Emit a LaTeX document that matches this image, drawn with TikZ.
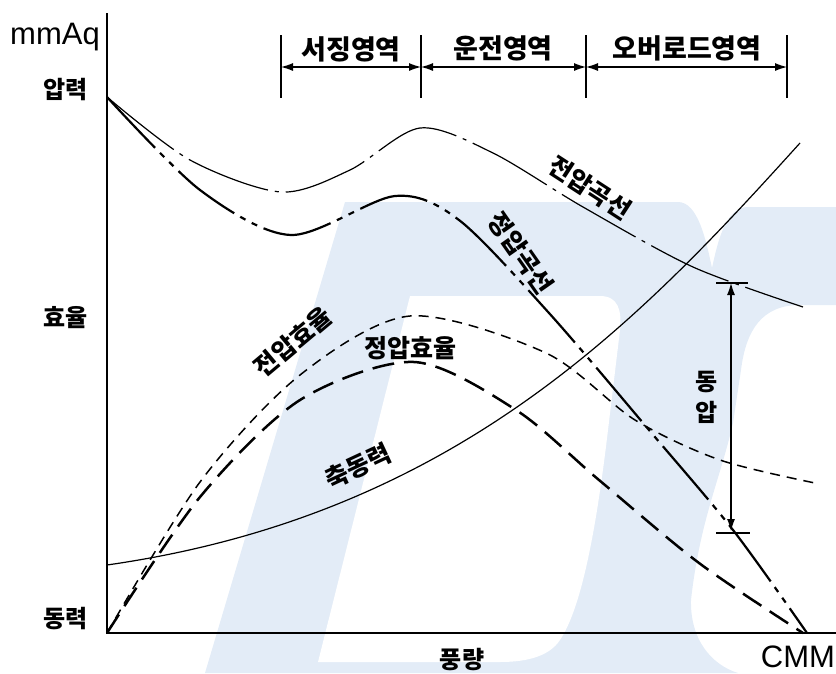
\documentclass[tikz,border=0pt]{standalone}
\usepackage{fontspec}
\newfontfamily\kr{Noto Sans CJK KR}
\newfontfamily\lat{Liberation Sans}
\usetikzlibrary{arrows.meta}
\definecolor{wm}{RGB}{227,236,247}
\begin{document}
\begin{tikzpicture}[x=1pt,y=-1pt,
  axisline/.style={line width=2.6pt, line join=miter},
  krlab/.style={font=\kr\bfseries\fontsize{24}{26}\selectfont, inner sep=0pt},
  curvelab/.style={font=\kr\bfseries\fontsize{25}{27}\selectfont, inner sep=0pt},
  reglab/.style={font=\kr\bfseries\fontsize{27}{29}\selectfont, inner sep=0pt},
  latlab/.style={font=\lat\fontsize{31}{33}\selectfont, inner sep=0pt},
  totalp/.style={line width=1.2pt, dash pattern=on 85pt off 7pt on 4pt off 7pt},
  staticp/.style={line width=2.2pt, dash pattern=on 70pt off 7pt on 6pt off 7pt on 6pt off 7pt},
  shaft/.style={line width=1.2pt},
  totale/.style={line width=1.5pt, dash pattern=on 10pt off 7pt},
  statice/.style={line width=2.5pt, dash pattern=on 22pt off 10pt},
  tickline/.style={line width=1.2pt},
  dimarr/.style={line width=1.1pt, {Latex[length=12pt,width=8pt]}-{Latex[length=12pt,width=8pt]}}
]
\useasboundingbox (0,0) rectangle (836,673);
% watermark
\fill[wm] (345,202) -- (678,202) .. controls (698,202) and (706,240) .. (712,268)
  .. controls (718,240) and (726,207) .. (748,207) -- (836,207) -- (836,305) -- (800,305)
  .. controls (762,305) and (746,330) .. (741,370) -- (733,423)
  .. controls (720,480) and (700,520) .. (691,600)
  .. controls (690,640) and (712,665) .. (738,673) -- (205,673) -- cycle;
\fill[white] (410,296) -- (600,296) .. controls (618,296) and (622,310) .. (620,330)
  -- (608,430) .. controls (595,540) and (580,610) .. (560,640)
  .. controls (550,655) and (530,662) .. (500,662) -- (318,662) -- cycle;

% axes
\coordinate (O) at (107,633);
\coordinate (ytop) at (107,13);
\coordinate (xend) at (836,633);
\draw[axisline] (ytop) -- (O) -- (xend);

% axis labels
\node[latlab] (mm) at (55,37) {mmAq};
\node[krlab] (lp) at (66,90) {압력};
\node[krlab] (le) at (66,318) {효율};
\node[krlab] (lw) at (66,619) {동력};
\node[krlab] (lq) at (462,660) {풍량};
\node[latlab] (cmm) at (798,657) {CMM};

% region markers
\foreach \n/\x in {a/281,b/421,c/586,d/787}{
  \coordinate (\n t) at (\x,35);
  \coordinate (\n b) at (\x,98);
  \coordinate (\n m) at (\x,67);
  \draw[tickline] (\n t) -- (\n b);
}
\draw[dimarr] (am) -- (bm);
\draw[dimarr] (bm) -- (cm);
\draw[dimarr] (cm) -- (dm);
\node[reglab] (r1) at (351,49) {서징영역};
\node[reglab] (r2) at (503,48) {운전영역};
\node[reglab] (r3) at (687,48) {오버로드영역};

% total pressure curve
\draw[totalp] plot[smooth] coordinates {(107,97) (190,160) (281,192) (350,170) (420,128) (493,153) (583,207) (693,267) (803,307)};
% static pressure curve
\draw[staticp] plot[smooth] coordinates {(107,97) (200,190) (291,235) (395,196) (459,220) (549,313) (649,430) (733,530) (807,633)};
% shaft power
\coordinate (s0) at (107,565);
\coordinate (s1) at (800,143);
\draw[shaft] (s0) .. controls (457,515) and (640,320) .. (s1);
% total efficiency
\draw[totale] plot[smooth] coordinates {(107,633) (200,482) (300,375) (410,316) (546,353) (635,420) (720,460) (815,483)};
% static efficiency
\draw[statice] plot[smooth] coordinates {(107,633) (200,497) (300,400) (414,362) (516,410) (599,480) (699,563) (803,633)};

% dynamic pressure
\coordinate (dpt) at (731,283);
\coordinate (dpb) at (731,531);
\draw[dimarr] (dpt) -- (dpb);
\draw[tickline] (716,283) -- (748,283);
\draw[tickline] (716,533) -- (750,533);
\node[krlab] (d1) at (707,382) {동};
\node[krlab] (d2) at (707,412) {압};

% curve labels
\node[curvelab, rotate=-33] (c1) at (590,188) {전압곡선};
\node[curvelab, rotate=-55] (c2) at (521,253) {정압곡선};
\node[curvelab, rotate=40] (c3) at (293,342) {전압효율};
\node[curvelab] (c4) at (410,348) {정압효율};
\node[curvelab, rotate=25] (c5) at (358,466) {축동력};
\end{tikzpicture}
\end{document}
